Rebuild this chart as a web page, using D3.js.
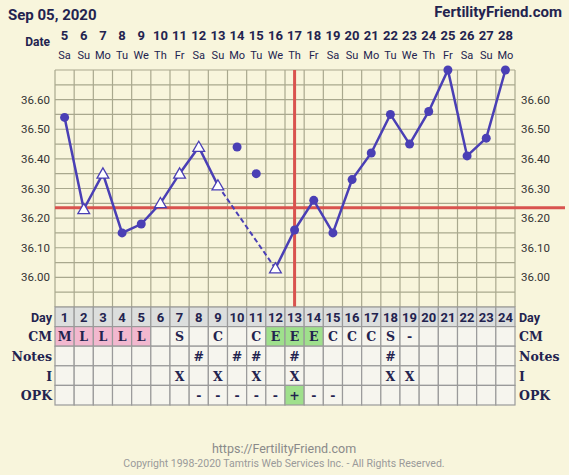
<!DOCTYPE html>
<html>
<head>
<meta charset="utf-8">
<script src="https://d3js.org/d3.v7.min.js"></script>
<style>
  body { margin:0; background:#f8f5dc; }
  text { font-family: Roboto, "Noto Sans", sans-serif; }
</style>
</head>
<body>
<div id="vis"></div>
<script>
// chart data
let dates = [5,6,7,8,9,10,11,12,13,14,15,16,17,18,19,20,21,22,23,24,25,26,27,28];
let weekdays = ["Sa","Su","Mo","Tu","We","Th","Fr","Sa","Su","Mo","Tu","We","Th","Fr","Sa","Su","Mo","Tu","We","Th","Fr","Sa","Su","Mo"];
let temps = [36.54,36.23,36.35,36.15,36.18,36.25,36.35,36.44,36.31,36.44,36.35,36.03,36.16,36.26,36.15,36.33,36.42,36.55,36.45,36.56,36.70,36.41,36.47,36.70];
// 0 = dot, 1 = open triangle
let markers = [0,1,1,0,0,1,1,1,1,0,0,1,0,0,0,0,0,0,0,0,0,0,0,0];
let dashedFrom = 9, dashedTo = 12;
let coverline = 36.235;
let ovulationDay = 13;
let yTicks = [36.00,36.10,36.20,36.30,36.40,36.50,36.60];
let cm = ["M","L","L","L","L","","S","","C","","C","E","E","E","C","C","C","S","-","","","","",""];
let notes = ["","","","","","","","#","","#","#","","#","","","","","#","","","","","",""];
let intercourse = ["","","","","","","X","","X","","X","","X","","","","","X","X","","","","",""];
let opk = ["","","","","","","","-","-","-","-","-","+","-","-","","","","","","","","",""];

let w = 569, h = 475;
let x0 = 55, x1 = 515, plotTop = 70, plotBottom = 307;
let days = d3.range(1, 25);
let svg = d3.select("#vis").append("svg").attr("width", w).attr("height", h);
svg.append("rect").attr("width", w).attr("height", h).attr("fill", "#f8f5dc");

let xb = d3.scaleBand().domain(days).range([x0, x1]);
let xc = d => xb(d) + xb.bandwidth()/2;
let y = d3.scaleLinear().domain([35.90, 36.70]).range([plotBottom, plotTop]);
let navy = "#23234f", grid = "#a9a88e", blue = "#4a3fb5", red = "#d9534f";
let serif = "'DejaVu Serif', serif";

// grid
let g = svg.append("g");
days.concat([25]).forEach(d => {
  let xx = d == 25 ? x1 : xb(d);
  g.append("line").attr("x1", xx).attr("x2", xx).attr("y1", plotTop).attr("y2", plotBottom)
    .attr("stroke", grid).attr("stroke-width", 1.2);
});
d3.range(0, 17).forEach(i => {
  let yy = y(35.90 + i*0.05);
  g.append("line").attr("x1", x0).attr("x2", x1).attr("y1", yy).attr("y2", yy)
    .attr("stroke", grid).attr("stroke-width", 1.2);
});

// header
svg.append("text").attr("x", 8).attr("y", 20).attr("font-size", 15).attr("font-weight", "bold")
  .attr("fill", navy).text("Sep 05, 2020");
svg.append("text").attr("x", 562).attr("y", 17).attr("text-anchor", "end").attr("font-size", 15)
  .attr("font-weight", "bold").attr("fill", navy).text("FertilityFriend.com");
svg.append("text").attr("x", 50).attr("y", 46).attr("text-anchor", "end").attr("font-size", 12)
  .attr("font-weight", "bold").attr("fill", navy).text("Date");
svg.selectAll(".dt").data(days).join("text").attr("x", d => xc(d)).attr("y", 40)
  .attr("text-anchor", "middle").attr("font-size", 13).attr("font-weight", "bold").attr("fill", navy)
  .text(d => dates[d-1]);
svg.selectAll(".wd").data(days).join("text").attr("x", d => xc(d)).attr("y", 59)
  .attr("text-anchor", "middle").attr("font-size", 11).attr("fill", navy)
  .text(d => weekdays[d-1]);

// y axis labels both sides
yTicks.forEach(t => {
  svg.append("text").attr("x", 50).attr("y", y(t) + 4).attr("text-anchor", "end")
    .attr("font-size", 11.5).attr("fill", "#333").text(t.toFixed(2));
  svg.append("text").attr("x", 521).attr("y", y(t) + 4)
    .attr("font-size", 11.5).attr("fill", "#333").text(t.toFixed(2));
});

// coverline + ovulation
svg.append("line").attr("x1", x0).attr("x2", x1 + 50).attr("y1", y(coverline)).attr("y2", y(coverline))
  .attr("stroke", red).attr("stroke-width", 3);
svg.append("line").attr("x1", xc(ovulationDay)).attr("x2", xc(ovulationDay)).attr("y1", plotTop).attr("y2", plotBottom)
  .attr("stroke", red).attr("stroke-width", 3);

// temperature line
let pts = days.map(d => ({ day: d, t: temps[d-1], m: markers[d-1] }));
let line = d3.line().x(p => xc(p.day)).y(p => y(p.t));
let seg1 = pts.filter(p => p.day <= dashedFrom);
let seg2 = pts.filter(p => p.day >= dashedTo);
let segD = pts.filter(p => p.day == dashedFrom || p.day == dashedTo);
[seg1, seg2].forEach(s => svg.append("path").attr("d", line(s)).attr("fill", "none")
  .attr("stroke", blue).attr("stroke-width", 2.5));
svg.append("path").attr("d", line(segD)).attr("fill", "none").attr("stroke", blue)
  .attr("stroke-width", 2).attr("stroke-dasharray", "5,3");

svg.selectAll(".dot").data(pts.filter(p => p.m == 0)).join("circle")
  .attr("cx", p => xc(p.day)).attr("cy", p => y(p.t)).attr("r", 4.5).attr("fill", blue);
svg.selectAll(".tri").data(pts.filter(p => p.m == 1)).join("path")
  .attr("d", d3.symbol(d3.symbolTriangle, 60))
  .attr("transform", p => `translate(${xc(p.day)},${y(p.t) + 1})`)
  .attr("fill", "#fff").attr("stroke", blue).attr("stroke-width", 1.3);

// table
let rowH = 19.6, tTop = 307;
let rows = [
  { label: "Day", vals: days.map(String) },
  { label: "CM", vals: cm },
  { label: "Notes", vals: notes },
  { label: "I", vals: intercourse },
  { label: "OPK", vals: opk }
];
rows.forEach((r, ri) => {
  let yy = tTop + ri*rowH;
  let lf = ri == 0 ? "Roboto, sans-serif" : serif;
  days.forEach(d => {
    let v = r.vals[d-1];
    let fill = ri == 0 ? "#dcdedd" : "#f6f5ee";
    if (ri == 1 && (v == "M" || v == "L")) fill = "#f2b8cf";
    if (ri == 1 && v == "E") fill = "#9fe08c";
    if (ri == 4 && v == "+") fill = "#9fe08c";
    svg.append("rect").attr("x", xb(d)).attr("y", yy).attr("width", xb.bandwidth()).attr("height", rowH)
      .attr("fill", fill).attr("stroke", "#9a9a9a").attr("stroke-width", 1.2);
    svg.append("text").attr("x", xc(d)).attr("y", yy + rowH/2 + 5).attr("text-anchor", "middle")
      .attr("font-size", ri == 0 ? 13 : 12.5).attr("font-weight", "bold").attr("fill", navy)
      .style("font-family", lf).text(v);
  });
  svg.append("text").attr("x", 52).attr("y", yy + rowH/2 + 5).attr("text-anchor", "end")
    .attr("font-size", 12.5).attr("font-weight", "bold").attr("fill", navy).style("font-family", lf).text(r.label);
  svg.append("text").attr("x", 519).attr("y", yy + rowH/2 + 5)
    .attr("font-size", 12.5).attr("font-weight", "bold").attr("fill", navy).style("font-family", lf).text(r.label);
});

// footer
svg.append("text").attr("x", 284).attr("y", 453).attr("text-anchor", "middle").attr("font-size", 12.5)
  .attr("fill", "#8a8a8a").text("https://FertilityFriend.com");
svg.append("text").attr("x", 284).attr("y", 467).attr("text-anchor", "middle").attr("font-size", 10.5)
  .attr("fill", "#9a9a9a").text("Copyright 1998-2020 Tamtris Web Services Inc. - All Rights Reserved.");
</script>
</body>
</html>
